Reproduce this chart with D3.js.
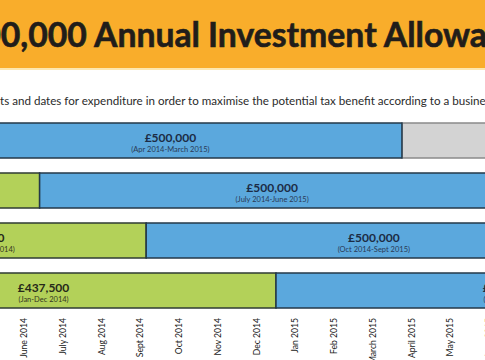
<!DOCTYPE html>
<html>
<head>
<meta charset="utf-8">
<script src="https://cdn.jsdelivr.net/npm/d3@7"></script>
<style>
  html, body { margin: 0; padding: 0; background: #ffffff; overflow: hidden; }
  svg { display: block; }
</style>
</head>
<body>
<svg id="chart" width="485" height="360"></svg>
<script>
// ---------------- data ----------------
const titleText = "£500,000 Annual Investment Allowance";
const subtitleText = "Plan amounts and dates for expenditure in order to maximise the potential tax benefit according to a business's year end";

// rows = business year ends
const rowNames = ["March year end", "June year end", "Sept year end", "Dec year end"];
// months counted from Jan 2014 = 0
const periodStart = [3.3, 5.9, 8.65, 12];      // start of the £500,000 year
const periodEnd   = [15.25, 17.9, 20.4, 24];   // end of the £500,000 year
const chartEnd = 24;

const earlyValues  = [null, "£312,500", "£375,000", "£437,500"];
const earlyPeriods = [null, "(July 2013-June 2014)", "(Oct 2013-Sept 2014)", "(Jan-Dec 2014)"];
const fullValues   = ["£500,000", "£500,000", "£500,000", "£500,000"];
const fullPeriods  = ["(Apr 2014-March 2015)", "(July 2014-June 2015)", "(Oct 2014-Sept 2015)", "(Jan-Dec 2015)"];

const tickLabels = ["June 2014", "July 2014", "Aug 2014", "Sept 2014", "Oct 2014", "Nov 2014",
                    "Dec 2014", "Jan 2015", "Feb 2015", "March 2015", "April 2015", "May 2015", "June 2015"];
const firstTickMonth = 5; // June 2014

// ---------------- drawing ----------------
const svg = d3.select("#chart");
const W = 485;
const FONT = "Lato, 'Open Sans', sans-serif";

const x = d3.scaleLinear().domain([0, 24]).range([-189, -189 + 24 * 38.75]);
const y = d3.scaleBand().domain(rowNames).range([123, 308]).paddingInner(0.3).paddingOuter(0);

// header
svg.append("rect").attr("x", 0).attr("y", 0).attr("width", W).attr("height", 68).attr("fill", "#f9ad2b");
svg.append("rect").attr("x", 0).attr("y", 68).attr("width", W).attr("height", 2).attr("fill", "#fde7b0");

// fit a text so that the substring [a, b) spans from x0 to x1
function fitText(sel, str, a, b, x0, x1, baseSize) {
  sel.attr("font-size", baseSize);
  const n = sel.node();
  const len = n.getSubStringLength(a, b - a);
  const size = baseSize * (x1 - x0) / len;
  sel.attr("font-size", size);
  const pre = n.getSubStringLength(0, a);
  sel.attr("x", x0 - pre);
}

const title = svg.append("text")
  .attr("y", 47)
  .attr("font-family", FONT)
  .attr("font-weight", 700)
  .attr("fill", "#211d1a")
  .attr("stroke", "#211d1a")
  .attr("stroke-width", 0.6)
  .text(titleText);
const ia = titleText.indexOf("Annual");
fitText(title, titleText, ia, ia + "Annual Investment Allowa".length, 94, 487, 30);

const sub = svg.append("text")
  .attr("y", 105)
  .attr("font-family", FONT)
  .attr("fill", "#2b2b2b")
  .text(subtitleText);
const sa = subtitleText.indexOf("ts and");
const sb = subtitleText.indexOf("busine") + "busine".length;
fitText(sub, subtitleText, sa, sb, 0, 486, 12.6);

// segments
const segs = [];
rowNames.forEach((r, i) => {
  segs.push({row: r, s: 0, e: periodStart[i], kind: "early", val: earlyValues[i], per: earlyPeriods[i]});
  segs.push({row: r, s: periodStart[i], e: periodEnd[i], kind: "full", val: fullValues[i], per: fullPeriods[i]});
  if (periodEnd[i] < chartEnd) segs.push({row: r, s: periodEnd[i], e: chartEnd, kind: "after", val: null, per: null});
});
const fillOf = {early: "#b3d159", full: "#5ba8dd", after: "#d3d3d3"};
const strokeOf = {early: "#2f3b33", full: "#243848", after: "#8a8a8a"};

const g = svg.append("g");
const order = {after: 0, early: 1, full: 2};
g.selectAll("rect.seg").data(segs.slice().sort((a, b) => order[a.kind] - order[b.kind]))
  .join("rect").attr("class", "seg")
  .attr("x", d => x(d.s))
  .attr("y", d => y(d.row))
  .attr("width", d => x(d.e) - x(d.s))
  .attr("height", y.bandwidth())
  .attr("fill", d => fillOf[d.kind])
  .attr("stroke", d => strokeOf[d.kind])
  .attr("stroke-width", 1.5);

const lab = segs.filter(d => d.val);
g.selectAll("text.val").data(lab).join("text").attr("class", "val")
  .attr("x", d => (x(d.s) + x(d.e)) / 2)
  .attr("y", d => y(d.row) + 19)
  .attr("text-anchor", "middle")
  .attr("font-family", FONT)
  .attr("font-weight", 700)
  .attr("font-size", 12)
  .attr("fill", d => d.kind === "full" ? "#1c2c45" : "#26291a")
  .text(d => d.val);
g.selectAll("text.per").data(lab).join("text").attr("class", "per")
  .attr("x", d => (x(d.s) + x(d.e)) / 2)
  .attr("y", d => y(d.row) + 28.5)
  .attr("text-anchor", "middle")
  .attr("font-family", FONT)
  .attr("font-size", 7.5)
  .attr("fill", d => d.kind === "full" ? "#2a3a55" : "#33361f")
  .text(d => d.per);

// month axis
const mb = d3.scaleBand().domain(tickLabels)
  .range([x(firstTickMonth), x(firstTickMonth + tickLabels.length)]);
const ax = svg.append("g").attr("transform", "translate(0,318)")
  .call(d3.axisBottom(mb).tickSize(0).tickPadding(0));
ax.select(".domain").remove();
ax.selectAll("text")
  .attr("transform", "rotate(-90)")
  .attr("x", 0).attr("y", 0).attr("dy", "0.35em")
  .attr("text-anchor", "end")
  .attr("font-family", FONT)
  .attr("font-size", 8.6)
  .attr("fill", "#1a1a1a");
</script>
</body>
</html>
